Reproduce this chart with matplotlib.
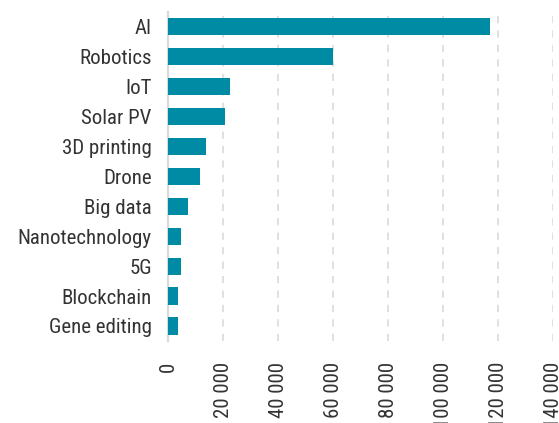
import matplotlib
matplotlib.use('Agg')

import matplotlib.pyplot as plt

categories = ["AI", "Robotics", "IoT", "Solar PV", "3D printing", "Drone",
              "Big data", "Nanotechnology", "5G", "Blockchain", "Gene editing"]
values = [117000, 60000, 22300, 20500, 13600, 11400, 7100, 4500, 4500, 3400, 3400]
xticks = [0, 20000, 40000, 60000, 80000, 100000, 120000, 140000]
xtick_labels = ["0", "20 000", "40 000", "60 000", "80 000", "100 000", "120 000", "140 000"]

plt.rcParams['font.family'] = ['Roboto Condensed', 'DejaVu Sans']

fig = plt.figure(figsize=(5.59, 4.23), dpi=100)
ax = fig.add_axes([0.3014, 0.194, 0.6886, 0.7786])

pos = list(range(len(categories)))
ax.barh(pos, values, height=0.57, color='#008ba4', zorder=3)
ax.set_ylim(len(categories) - 0.5, -0.5)
ax.set_yticks(pos)
ax.set_yticklabels(categories)
ax.set_xlim(0, 140000)
ax.set_xticks(xticks)
ax.set_xticklabels(xtick_labels, rotation=90, rotation_mode='anchor',
                   ha='right', va='center')

ax.grid(axis='x', color='#dddddd', linestyle=(0, (4, 4)), linewidth=1.3, zorder=0)
for s in ['top', 'right', 'bottom']:
    ax.spines[s].set_visible(False)
ax.spines['left'].set_color('#d9d9d9')
ax.spines['left'].set_linewidth(1.6)

ax.tick_params(axis='y', length=0, pad=12, labelsize=15, labelcolor='#333333')
ax.tick_params(axis='x', length=0, pad=15, labelsize=15, labelcolor='#333333')

fig.savefig("out.png", dpi=100)
